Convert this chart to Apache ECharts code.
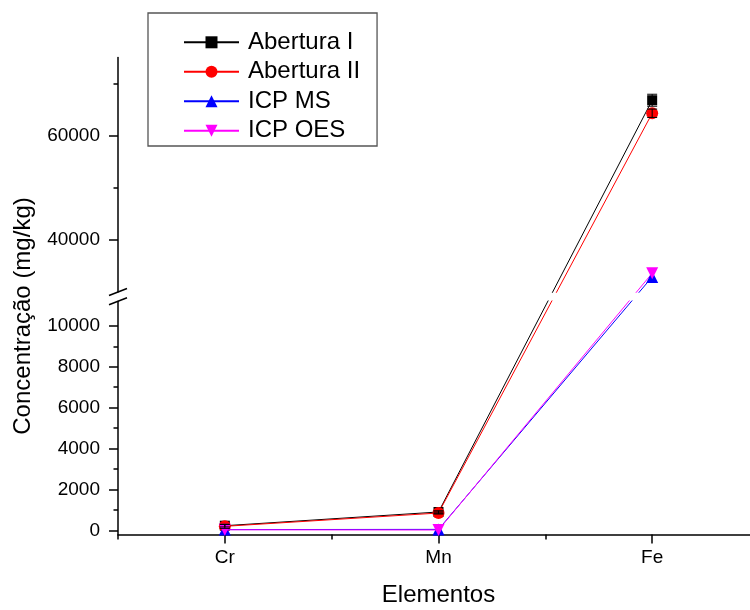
<!DOCTYPE html>
<html><head><meta charset="utf-8">
<script src="https://cdn.jsdelivr.net/npm/echarts@6/dist/echarts.min.js"></script>
<style>html,body{margin:0;padding:0;background:#fff}#c{width:750px;height:610px}</style>
</head><body><div id="c"></div>
<script>
// ---- data ----
const categories = ['Cr', 'Mn', 'Fe'];
const seriesNames = ['Abertura I', 'Abertura II', 'ICP MS', 'ICP OES'];
const aberturaI = [230, 900, 66800];
const aberturaIErr = [60, 60, 1150];
const aberturaII = [200, 850, 64300];
const aberturaIIErr = [100, 50, 800];
const icpMS = [40, 50, 32900];
const icpOES = [30, 20, 33600];
const lowerMajorTicks = [0, 2000, 4000, 6000, 8000, 10000];
const lowerMinorTicks = [1000, 3000, 5000, 7000, 9000];
const upperMajorTicks = [40000, 60000];
const upperMinorTicks = [50000, 70000];
const LOWER_RANGE = [-200, 11200];
const UPPER_RANGE = [30000, 75000];
const xTitle = 'Elementos';
const yTitle = 'Concentração (mg/kg)';

// ---- styles ----
const FONT = 'Liberation Sans, Arial, sans-serif';
const GRID_LEFT = 118, GRID_WIDTH = 641;
const datasets = [aberturaI, aberturaII, icpMS, icpOES];
const errors = [aberturaIErr, aberturaIIErr, null, null];
const styles = [
  {color: '#000000', symbol: 'rect', size: 10, rotate: 0},
  {color: '#ff0000', symbol: 'circle', size: 12, rotate: 0},
  {color: '#0000ff', symbol: 'triangle', size: 12, rotate: 0},
  {color: '#ff00ff', symbol: 'triangle', size: 12, rotate: 180}
];
const inLower = v => v >= LOWER_RANGE[0] && v <= LOWER_RANGE[1];
const inUpper = v => v >= UPPER_RANGE[0] && v <= UPPER_RANGE[1];

const axisLine = {show: true, onZero: false, lineStyle: {color: '#000', width: 1.5}};
const tickStyle = {color: '#000', width: 1.5};
const labelStyle = {color: '#000', fontSize: 19, fontFamily: FONT, formatter: v => String(v)};

const chart = echarts.init(document.getElementById('c'), null, {renderer: 'canvas'});

const grids = [
  {left: GRID_LEFT, top: 301.3, width: GRID_WIDTH, height: 233.2, outerBoundsMode: 'none', containLabel: false},
  {left: GRID_LEFT, top: 57.5, width: GRID_WIDTH, height: 234.5, outerBoundsMode: 'none', containLabel: false}
];

const xAxes = [
  {type: 'category', gridIndex: 0, position: 'bottom', data: categories, boundaryGap: true,
   axisLine: axisLine,
   axisTick: {show: true, alignWithLabel: true, length: 9, lineStyle: tickStyle},
   axisLabel: {margin: 14, interval: 0, color: '#000', fontSize: 19, fontFamily: FONT},
   splitLine: {show: false},
   name: xTitle, nameLocation: 'middle', nameGap: 49,
   nameTextStyle: {color: '#000', fontSize: 24, fontFamily: FONT}},
  {type: 'category', gridIndex: 0, position: 'bottom', data: categories, boundaryGap: true,
   axisLine: {show: false, onZero: false},
   axisTick: {show: true, alignWithLabel: false, length: 5, lineStyle: tickStyle},
   axisLabel: {show: false}, splitLine: {show: false}},
  {type: 'category', gridIndex: 1, position: 'bottom', data: categories, boundaryGap: true, show: false,
   axisLine: {onZero: false}}
];

const yAxes = [
  {type: 'value', gridIndex: 0, position: 'left', min: LOWER_RANGE[0], max: LOWER_RANGE[1],
   axisLine: axisLine,
   axisTick: {show: true, length: 9, lineStyle: tickStyle, customValues: lowerMajorTicks},
   axisLabel: Object.assign({margin: 18, customValues: lowerMajorTicks}, labelStyle),
   splitLine: {show: false}},
  {type: 'value', gridIndex: 0, position: 'left', offset: 0, min: LOWER_RANGE[0], max: LOWER_RANGE[1],
   axisLine: {show: false, onZero: false},
   axisTick: {show: true, length: 4.5, lineStyle: tickStyle, customValues: lowerMinorTicks},
   axisLabel: {show: false}, splitLine: {show: false}},
  {type: 'value', gridIndex: 1, position: 'left', min: UPPER_RANGE[0], max: UPPER_RANGE[1],
   axisLine: axisLine,
   axisTick: {show: true, length: 9, lineStyle: tickStyle, customValues: upperMajorTicks},
   axisLabel: Object.assign({margin: 18, customValues: upperMajorTicks}, labelStyle),
   splitLine: {show: false}},
  {type: 'value', gridIndex: 1, position: 'left', offset: 0, min: UPPER_RANGE[0], max: UPPER_RANGE[1],
   axisLine: {show: false, onZero: false},
   axisTick: {show: true, length: 4.5, lineStyle: tickStyle, customValues: upperMinorTicks},
   axisLabel: {show: false}, splitLine: {show: false}}
];

function pointSeries(idx, gridNo) {
  const st = styles[idx];
  const test = gridNo === 0 ? inLower : inUpper;
  return {
    type: 'line', name: seriesNames[idx],
    xAxisIndex: gridNo === 0 ? 0 : 2, yAxisIndex: gridNo === 0 ? 0 : 2,
    data: datasets[idx].map(v => test(v) ? v : '-'),
    symbol: st.symbol, symbolSize: st.size, symbolRotate: st.rotate, showAllSymbol: true,
    lineStyle: {color: st.color, width: 1},
    itemStyle: {color: st.color, borderWidth: 0},
    connectNulls: false, z: 3 + idx, silent: true,
    emphasis: {disabled: true}, animation: false
  };
}

function errorSeries(idx, gridNo) {
  const vals = datasets[idx], errs = errors[idx];
  const test = gridNo === 0 ? inLower : inUpper;
  const data = [];
  vals.forEach((v, i) => { if (test(v)) data.push([i, v - errs[i], v + errs[i]]); });
  return {
    type: 'custom', xAxisIndex: gridNo === 0 ? 0 : 2, yAxisIndex: gridNo === 0 ? 0 : 2,
    data: data, z: 20, silent: true, animation: false,
    encode: {x: 0, y: [1, 2]},
    renderItem: function (params, api) {
      const x = api.value(0);
      const lo = api.coord([x, api.value(1)]);
      const hi = api.coord([x, api.value(2)]);
      const w = 5;
      const s = {stroke: '#000', lineWidth: 1};
      return {type: 'group', children: [
        {type: 'line', shape: {x1: lo[0], y1: lo[1], x2: hi[0], y2: hi[1]}, style: s},
        {type: 'line', shape: {x1: lo[0] - w, y1: lo[1], x2: lo[0] + w, y2: lo[1]}, style: s},
        {type: 'line', shape: {x1: hi[0] - w, y1: hi[1], x2: hi[0] + w, y2: hi[1]}, style: s}
      ]};
    }
  };
}

const series = [];
datasets.forEach((d, i) => series.push(pointSeries(i, 0)));
datasets.forEach((d, i) => series.push(pointSeries(i, 1)));
errors.forEach((e, i) => { if (e) { series.push(errorSeries(i, 0)); series.push(errorSeries(i, 1)); } });

const option = {
  animation: false,
  backgroundColor: '#ffffff',
  textStyle: {fontFamily: FONT},
  grid: grids,
  xAxis: xAxes,
  yAxis: yAxes,
  legend: {
    data: seriesNames, orient: 'vertical', left: 148, top: 13,
    itemWidth: 55, itemHeight: 15, itemGap: 5.5,
    padding: [17.3, 17, 3.2, 35],
    borderColor: '#555', borderWidth: 1.3, backgroundColor: '#fff',
    selectedMode: false,
    textStyle: {color: '#000', fontSize: 24, fontFamily: FONT, lineHeight: 24, padding: [0, 0, 0, 4]}
  },
  series: series
};
chart.setOption(option);

// segments that cross the axis break, positioned through the axes' own scales
const finders = [{xAxisIndex: 0, yAxisIndex: 0}, {xAxisIndex: 2, yAxisIndex: 2}];
const graphics = [];
datasets.forEach((vals, s) => {
  const pts = vals.map((v, i) => {
    const g = inLower(v) ? 0 : 1;
    return {g: g, p: chart.convertToPixel(finders[g], [i, v])};
  });
  for (let i = 0; i < pts.length - 1; i++) {
    if (pts[i].g !== pts[i + 1].g) {
      graphics.push({type: 'line', z: 1, silent: true,
        shape: {x1: pts[i].p[0], y1: pts[i].p[1], x2: pts[i + 1].p[0], y2: pts[i + 1].p[1]},
        style: {stroke: styles[s].color, lineWidth: 1}});
    }
  }
});
const upperBottom = chart.convertToPixel({yAxisIndex: 2}, UPPER_RANGE[0]);
const lowerTop = chart.convertToPixel({yAxisIndex: 0}, LOWER_RANGE[1]);
graphics.push({type: 'rect', z: 50, silent: true,
  shape: {x: GRID_LEFT - 1.5, y: upperBottom + 0.8, width: 750, height: lowerTop - upperBottom - 1.6},
  style: {fill: '#fff'}});
[upperBottom, lowerTop].forEach(y => {
  graphics.push({type: 'line', z: 51, silent: true,
    shape: {x1: GRID_LEFT - 9, y1: y + 3.5, x2: GRID_LEFT + 9, y2: y - 3.5},
    style: {stroke: '#000', lineWidth: 1.5}});
});
graphics.push({type: 'text', z: 51, silent: true, x: 23, y: 316, rotation: Math.PI / 2,
  style: {text: yTitle, fill: '#000', font: '24px ' + FONT, align: 'center', verticalAlign: 'middle'}});
chart.setOption({graphic: graphics});
</script>
</body></html>
